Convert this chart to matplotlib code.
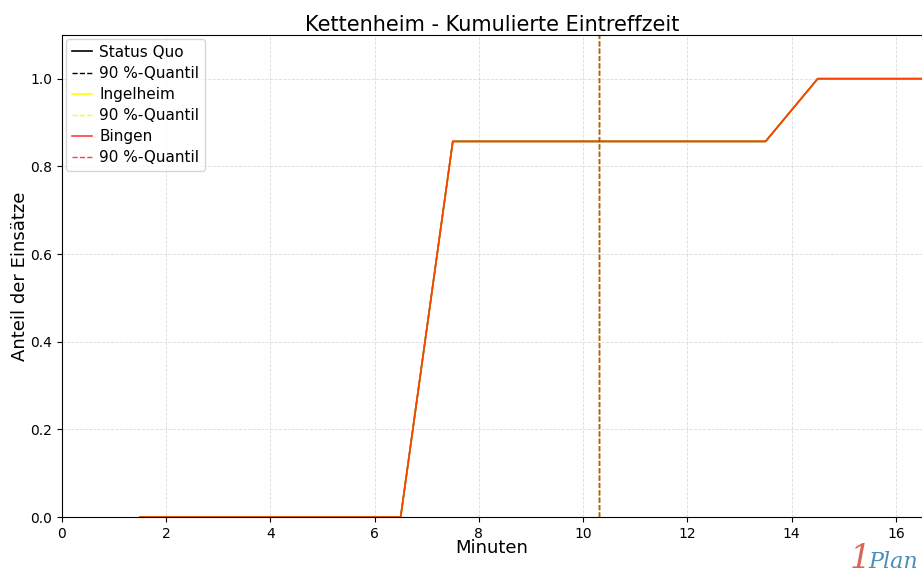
import matplotlib
matplotlib.use('Agg')
import matplotlib.pyplot as plt

minuten = [1.5, 2.5, 3.5, 4.5, 5.5, 6.5, 7.5, 8.5, 9.5, 10.5, 11.5, 12.5, 13.5, 14.5, 15.5, 16.5]
status_quo = [0, 0, 0, 0, 0, 0, 0.857, 0.857, 0.857, 0.857, 0.857, 0.857, 0.857, 1.0, 1.0, 1.0]
ingelheim = [0, 0, 0, 0, 0, 0, 0.857, 0.857, 0.857, 0.857, 0.857, 0.857, 0.857, 1.0, 1.0, 1.0]
bingen = [0, 0, 0, 0, 0, 0, 0.857, 0.857, 0.857, 0.857, 0.857, 0.857, 0.857, 1.0, 1.0, 1.0]
q90_status_quo = 10.3
q90_ingelheim = 10.3
q90_bingen = 10.3

fig = plt.figure(figsize=(9.22, 5.81), dpi=100)
ax = fig.add_axes([0.067, 0.110, 0.933, 0.830])

ax.plot(minuten, status_quo, color='black', lw=1.2, label='Status Quo')
ax.axvline(q90_status_quo, color='black', ls='--', lw=1, label='90 %-Quantil')
ax.plot(minuten, ingelheim, color='yellow', lw=1.2, label='Ingelheim')
ax.axvline(q90_ingelheim, color='yellow', ls='--', lw=1, label='90 %-Quantil')
ax.plot(minuten, bingen, color='red', lw=1.2, alpha=0.75, label='Bingen')
ax.axvline(q90_bingen, color='red', ls='--', lw=1, alpha=0.75, label='90 %-Quantil')

ax.set_xlim(0, 16.5)
ax.set_ylim(0, 1.1)
ax.grid(True, color='#cccccc', lw=0.6, ls='--', alpha=0.7)
ax.spines['right'].set_visible(False)
ax.set_title('Kettenheim - Kumulierte Eintreffzeit', fontsize=15, pad=3)
ax.set_xlabel('Minuten', fontsize=13, labelpad=-1)
ax.set_ylabel('Anteil der Einsätze', fontsize=13, labelpad=1)
ax.tick_params(labelsize=10)
ax.legend(loc='upper left', fontsize=11, handlelength=1.3, borderaxespad=0.25,
          labelspacing=0.4, handletextpad=0.5)

fig.text(0.922, 0.022, '1', color='#d9665a', fontsize=24, style='italic', family='DejaVu Serif')
fig.text(0.942, 0.022, 'Plan', color='#4a8fb8', fontsize=16, style='italic', family='DejaVu Serif')

fig.savefig('out.png', dpi=100)
